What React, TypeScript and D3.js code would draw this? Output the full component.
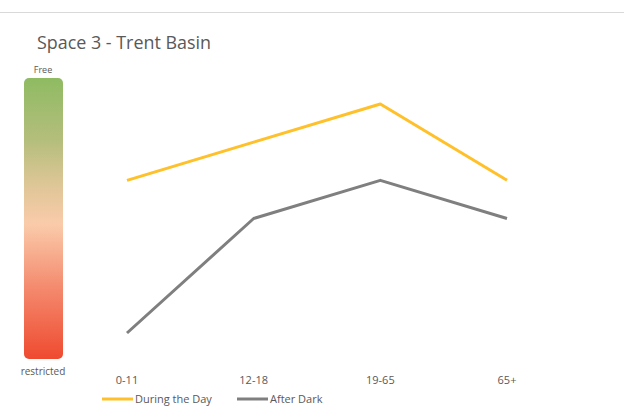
import React from "react";
import * as d3 from "d3";

const categories = ["0-11", "12-18", "19-65", "65+"];
const duringTheDay = [5, 6, 7, 5];
const afterDark = [1, 4, 5, 4];
const seriesNames = ["During the Day", "After Dark"];
const seriesColors = ["#FFC02A", "#7F7F7F"];
const gradientStops = [
  { offset: 0, color: "#8FBB62" },
  { offset: 0.22, color: "#B4BE7C" },
  { offset: 0.38, color: "#DEC697" },
  { offset: 0.52, color: "#FACBAA" },
  { offset: 0.75, color: "#F4896D" },
  { offset: 1, color: "#EF4A2F" },
];

export default function App() {
  const W = 624, H = 406;
  const x = d3.scalePoint<string>().domain(categories).range([127, 507]);
  const y = d3.scaleLinear().domain([1, 7]).range([333, 104]);
  const line = d3
    .line<number>()
    .x((_, i) => x(categories[i]) as number)
    .y((d) => y(d));
  const series = [duringTheDay, afterDark];
  const font = "'Open Sans', sans-serif";
  return (
    <svg
      width={W}
      height={H}
      style={{ position: "absolute", left: 0, top: 0, background: "#fff" }}
      fontFamily={font}
    >
      <defs>
        <linearGradient id="freeGrad" x1="0" y1="0" x2="0" y2="1">
          {gradientStops.map((s, i) => (
            <stop key={i} offset={s.offset} stopColor={s.color} />
          ))}
        </linearGradient>
      </defs>
      <line x1={0} x2={W} y1={12.5} y2={12.5} stroke="#D9D9D9" strokeWidth={1} />
      <text
        x={37}
        y={49}
        fontSize={18}
        fill="#595959"
        textLength={174}
        lengthAdjust="spacingAndGlyphs"
      >
        Space 3 - Trent Basin
      </text>
      <text x={43} y={73} fontSize={9} fill="#595959" textAnchor="middle">
        Free
      </text>
      <rect x={24} y={78} width={39} height={281} rx={5} fill="url(#freeGrad)" />
      <text x={43} y={375} fontSize={10} fill="#595959" textAnchor="middle">
        restricted
      </text>
      {series.map((s, i) => (
        <path
          key={i}
          d={line(s) as string}
          fill="none"
          stroke={seriesColors[i]}
          strokeWidth={3}
          strokeLinejoin="round"
        />
      ))}
      {categories.map((c) => (
        <text
          key={c}
          x={x(c) as number}
          y={384}
          fontSize={11}
          fill="#595959"
          textAnchor="middle"
        >
          {c}
        </text>
      ))}
      {seriesNames.map((n, i) => {
        const lx = i === 0 ? 102 : 237;
        return (
          <g key={n}>
            <line x1={lx} x2={lx + 31} y1={399} y2={399} stroke={seriesColors[i]} strokeWidth={3} />
            <text x={lx + 33} y={403} fontSize={11} fill="#595959">
              {n}
            </text>
          </g>
        );
      })}
    </svg>
  );
}
